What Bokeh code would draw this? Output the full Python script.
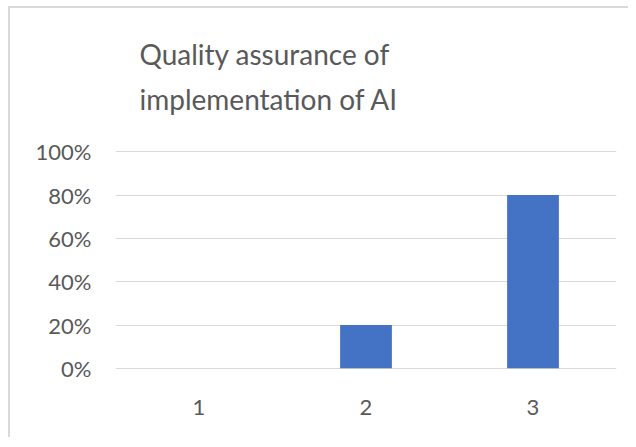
from bokeh.plotting import figure
from bokeh.models import Range1d, FixedTicker, NumeralTickFormatter, ColumnDataSource, Title
from bokeh.embed import file_html
from bokeh.resources import INLINE

categories = ["1", "2", "3"]
values = [0.0, 0.2, 0.8]
y_ticks = [0, 0.2, 0.4, 0.6, 0.8, 1.0]
title_text = "Quality assurance of\nimplementation of AI"

TEXT = "#595959"
GRID = "#d9d9d9"
BAR = "#4472C4"
FONT = "Lato"

src = ColumnDataSource(data=dict(cat=categories, val=values))

p = figure(width=620, height=431, x_range=categories, y_range=Range1d(-0.01, 1.01),
           output_backend="svg", toolbar_location=None,
           min_border_left=105, min_border_right=14, min_border_top=141, min_border_bottom=69,
           styles={"border-left": "2px solid #d9d9d9", "border-top": "2px solid #d9d9d9",
                   "margin-left": "8px", "margin-top": "6px"})

p.vbar(x="cat", top="val", width=0.31, source=src, fill_color=BAR, line_color=None)

# spacer between title and plot area
spacer = Title(text=" ", text_font_size="1px", standoff=30)
p.add_layout(spacer, "above")

p.title.text = title_text
p.title.align = "left"
p.title.offset = 24
p.title.text_font = FONT
p.title.text_font_size = "28px"
p.title.text_font_style = "normal"
p.title.text_color = TEXT
p.title.text_line_height = 1.335
p.title.standoff = 0

p.outline_line_color = None
p.background_fill_color = "white"
p.border_fill_color = "white"

p.xgrid.grid_line_color = None
p.ygrid.grid_line_color = GRID
p.ygrid.grid_line_width = 1

p.yaxis.ticker = FixedTicker(ticks=y_ticks)
p.yaxis.formatter = NumeralTickFormatter(format="0%")
for ax in (p.xaxis, p.yaxis):
    ax.axis_line_color = None
    ax.major_tick_line_color = None
    ax.minor_tick_line_color = None
    ax.major_tick_out = 0
    ax.major_tick_in = 0
    ax.major_label_text_font = FONT
    ax.major_label_text_font_size = "22px"
    ax.major_label_text_color = TEXT
p.yaxis.major_label_standoff = 24
p.xaxis.major_label_standoff = 29

open("out.html", "w").write(file_html(p, INLINE))
